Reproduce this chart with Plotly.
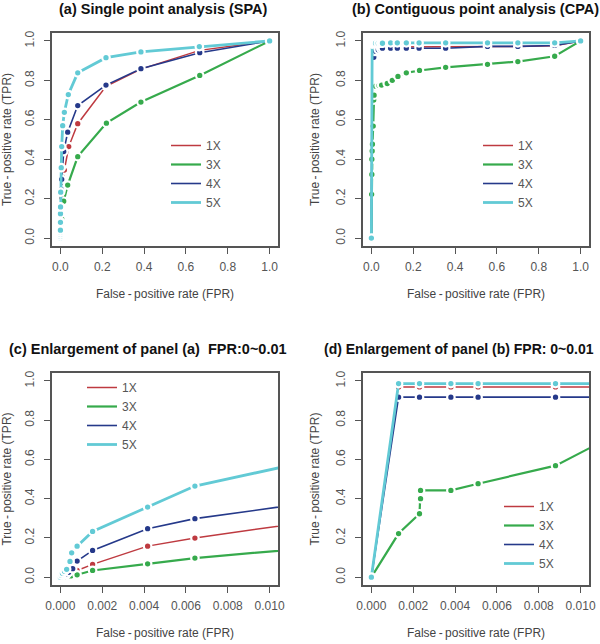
import plotly.graph_objects as go

# ---------------- data ----------------
series_names = ["1X", "3X", "4X", "5X"]

# Single point analysis (SPA) -- panels (a) and (c)
spa_fpr_1x = [0, 0.0002, 0.0004, 0.0006, 0.0008, 0.00154, 0.00417, 0.00643, 0.0112, 0.019, 0.04, 0.083, 0.218, 0.385, 0.666, 1]
spa_tpr_1x = [0, 0.005, 0.015, 0.025, 0.034, 0.065, 0.158, 0.199, 0.272, 0.345, 0.464, 0.58, 0.77, 0.857, 0.952, 1]

spa_fpr_3x = [0, 0.0002, 0.0005, 0.0008, 0.00154, 0.00417, 0.00643, 0.016, 0.035, 0.083, 0.22, 0.385, 0.666, 1]
spa_tpr_3x = [0, 0.002, 0.006, 0.012, 0.034, 0.068, 0.097, 0.187, 0.269, 0.413, 0.583, 0.69, 0.825, 1]

spa_fpr_4x = [0, 0.0001, 0.0003, 0.0004, 0.00059, 0.0008, 0.00154, 0.00417, 0.00643, 0.016, 0.035, 0.083, 0.218, 0.385, 0.666, 1]
spa_tpr_4x = [0, 0.005, 0.015, 0.025, 0.043, 0.082, 0.136, 0.247, 0.298, 0.439, 0.537, 0.672, 0.776, 0.859, 0.94, 1]

spa_fpr_5x = [0, 0.00005, 0.0001, 0.0002, 0.0003, 0.00046, 0.00054, 0.0008, 0.00154, 0.00417, 0.00643, 0.011, 0.019, 0.038, 0.083, 0.218, 0.385, 0.664, 1]
spa_tpr_5x = [0, 0.01, 0.02, 0.03, 0.04, 0.08, 0.124, 0.158, 0.233, 0.357, 0.464, 0.57, 0.638, 0.728, 0.838, 0.915, 0.944, 0.971, 1]

# Contiguous point analysis (CPA) -- panels (b) and (d)
cpa_fpr_1x = [0, 0.0013, 0.0023, 0.0038, 0.0051, 0.0088, 0.013, 0.02, 0.033, 0.045, 0.053, 0.092, 0.124, 0.167, 0.228, 0.355, 0.555, 0.70, 0.876, 1]
cpa_tpr_1x = [0, 0.969, 0.969, 0.969, 0.969, 0.969, 0.969, 0.969, 0.969, 0.969, 0.969, 0.969, 0.969, 0.969, 0.969, 0.969, 0.972, 0.972, 0.975, 1]

cpa_fpr_3x = [0, 0.0013, 0.0023, 0.00235, 0.00235, 0.0038, 0.0051, 0.0088, 0.0112, 0.013, 0.021, 0.037, 0.049, 0.076, 0.1, 0.127, 0.167, 0.23, 0.355, 0.555, 0.70, 0.876, 1]
cpa_tpr_3x = [0, 0.222, 0.323, 0.40, 0.442, 0.442, 0.476, 0.568, 0.70, 0.725, 0.77, 0.774, 0.776, 0.784, 0.80, 0.82, 0.838, 0.85, 0.866, 0.881, 0.895, 0.922, 1]

cpa_fpr_4x = [0, 0.0013, 0.0023, 0.0038, 0.0051, 0.0088, 0.0115, 0.013, 0.02, 0.033, 0.045, 0.053, 0.092, 0.124, 0.167, 0.228, 0.355, 0.555, 0.70, 0.876, 1]
cpa_tpr_4x = [0, 0.917, 0.917, 0.917, 0.917, 0.917, 0.917, 0.947, 0.947, 0.955, 0.96, 0.963, 0.963, 0.963, 0.963, 0.963, 0.963, 0.972, 0.972, 0.977, 1]

cpa_fpr_5x = [0, 0.0013, 0.0023, 0.0038, 0.0051, 0.0088, 0.013, 0.02, 0.033, 0.045, 0.053, 0.092, 0.124, 0.167, 0.228, 0.355, 0.555, 0.70, 0.876, 1]
cpa_tpr_5x = [0, 0.986, 0.986, 0.986, 0.986, 0.986, 0.988, 0.988, 0.988, 0.988, 0.988, 0.99, 0.99, 0.99, 0.99, 0.99, 0.99, 0.99, 0.99, 1]

panel_titles = [
    "(a) Single point analysis (SPA)",
    "(b) Contiguous point analysis (CPA)",
    "(c) Enlargement of panel (a)  FPR:0~0.01",
    "(d) Enlargement of panel (b) FPR: 0~0.01",
]
full_ticks = [0, 0.2, 0.4, 0.6, 0.8, 1.0]
full_ticktext = ["0.0", "0.2", "0.4", "0.6", "0.8", "1.0"]
zoom_ticks = [0, 0.002, 0.004, 0.006, 0.008, 0.010]
zoom_ticktext = ["0.000", "0.002", "0.004", "0.006", "0.008", "0.010"]
x_title = "False\u2009-\u2009positive rate (FPR)"
y_title = "True\u2009-\u2009positive rate (TPR)"

# ---------------- styles ----------------
colors = ["#BE3A40", "#36AA4C", "#25398A", "#62CAD5"]
widths = [1.5, 2.2, 1.6, 2.8]
FONT = "Liberation Sans, Arial"

spa = [(spa_fpr_1x, spa_tpr_1x), (spa_fpr_3x, spa_tpr_3x), (spa_fpr_4x, spa_tpr_4x), (spa_fpr_5x, spa_tpr_5x)]
cpa = [(cpa_fpr_1x, cpa_tpr_1x), (cpa_fpr_3x, cpa_tpr_3x), (cpa_fpr_4x, cpa_tpr_4x), (cpa_fpr_5x, cpa_tpr_5x)]

W, H = 600, 644
# panel boxes in pixels (left, right, top, bottom)
boxes = [(52, 278, 33, 246), (363, 589, 33, 246), (52, 278, 373, 585), (363, 589, 373, 585)]

fig = go.Figure()

panel_data = [spa, cpa, spa, cpa]
legend_ids = ["legend", "legend2", "legend3", "legend4"]
for p in range(4):
    suffix = "" if p == 0 else str(p + 1)
    for i, (xs, ys) in enumerate(panel_data[p]):
        fig.add_trace(go.Scatter(
            x=xs, y=ys, mode="lines+markers",
            line=dict(color=colors[i], width=widths[i]),
            marker=dict(color=colors[i], size=7.5, line=dict(color="white", width=2.2)),
            xaxis="x" + suffix, yaxis="y" + suffix,
            showlegend=False, hoverinfo="skip", cliponaxis=True,
        ))
    for i in range(4):
        fig.add_trace(go.Scatter(
            x=[None], y=[None], mode="lines", name=series_names[i],
            line=dict(color=colors[i], width=widths[i]),
            xaxis="x" + suffix, yaxis="y" + suffix,
            legend=legend_ids[p], showlegend=True,
        ))

axis_common = dict(
    showline=True, mirror=True, linecolor="#555555", linewidth=1.5, automargin=False,
    showgrid=False, zeroline=False, ticks="outside", ticklen=6, tickwidth=1,
    tickcolor="#555555", tickfont=dict(family=FONT, size=12, color="#555555"),
)
layout = dict(width=W, height=H, margin=dict(l=0, r=0, t=0, b=0), template="none",
              plot_bgcolor="white", paper_bgcolor="white", showlegend=True)

for p, (l, r, t, b) in enumerate(boxes):
    suffix = "" if p == 0 else str(p + 1)
    zoomed = p >= 2
    xa = dict(axis_common)
    xa.update(domain=[l / W, r / W], anchor="y" + suffix,
              range=[-0.0004, 0.0104] if zoomed else [-0.04, 1.04],
              tickvals=zoom_ticks if zoomed else full_ticks,
              ticktext=zoom_ticktext if zoomed else full_ticktext,
              ticklabelstandoff=3,
              title=dict(text=x_title, standoff=16,
                         font=dict(family=FONT, size=12, color="#444444")))
    ya = dict(axis_common)
    ya.update(domain=[1 - b / H, 1 - t / H], anchor="x" + suffix,
              range=[-0.04, 1.04], tickvals=full_ticks, ticktext=full_ticktext, tickangle=-90,
              ticklabelstandoff=5,
              title=dict(text=y_title, standoff=12,
                         font=dict(family=FONT, size=12, color="#444444")))
    layout["xaxis" + suffix] = xa
    layout["yaxis" + suffix] = ya

# legends (top-left corner of each legend box, px)
legend_pos = [(166, 131), (478, 131), (82, 373), (499, 492)]
for p, (lx, ly) in enumerate(legend_pos):
    layout[legend_ids[p]] = dict(
        x=lx / W, y=1 - ly / H, xanchor="left", yanchor="top",
        bgcolor="rgba(0,0,0,0)", borderwidth=0, itemwidth=30,
        font=dict(family=FONT, size=12, color="#555555"),
    )

# panel titles
title_specs = [(163.5, 9, "center", 14.5), (475, 9, "center", 14.5),
               (148, 349, "center", 14.5), (596, 349, "right", 14)]
layout["annotations"] = [
    dict(text="<b>%s</b>" % panel_titles[p], x=tx / W, y=1 - ty / H, xref="paper", yref="paper",
         xanchor=anc, yanchor="middle", showarrow=False,
         font=dict(family=FONT, size=fs, color="#111111"))
    for p, (tx, ty, anc, fs) in enumerate(title_specs)
]

fig.update_layout(**layout)
fig.write_html("out.html", config={"displayModeBar": False},
               post_script="document.body.style.margin='0';document.body.style.overflow='hidden';")
